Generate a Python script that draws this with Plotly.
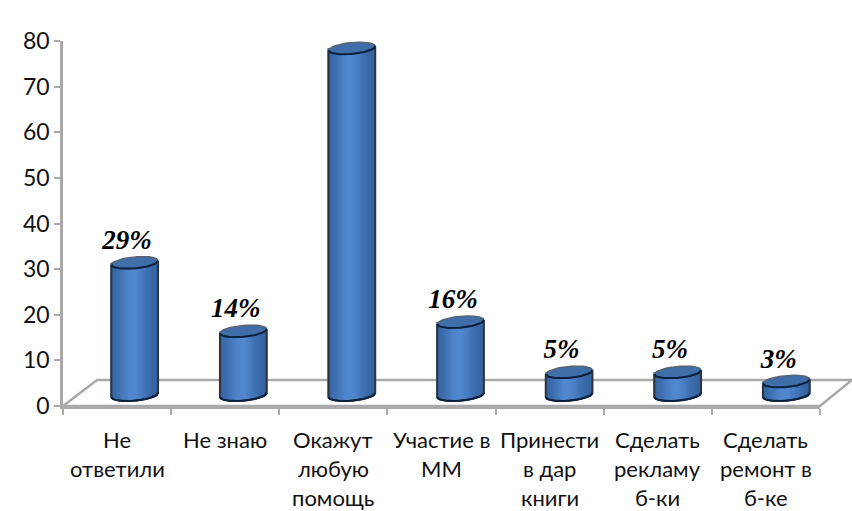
import numpy as np
import plotly.graph_objects as go

W, H = 852, 511
categories = ["Не ответили", "Не знаю", "Окажут любую помощь", "Участие в ММ",
              "Принести в дар книги", "Сделать рекламу б-ки", "Сделать ремонт в б-ке"]
category_lines = [["Не", "ответили"], ["Не знаю"], ["Окажут", "любую", "помощь"], ["Участие в", "ММ"],
                  ["Принести", "в дар", "книги"], ["Сделать", "рекламу", "б-ки"], ["Сделать", "ремонт в", "б-ке"]]
values = [29, 14, 76, 16, 5, 5, 3]
labels = ["29%", "14%", "76%", "16%", "5%", "5%", "3%"]
y_ticks = [0, 10, 20, 30, 40, 50, 60, 70, 80]

GRAY = "#a9a9a9"
NAVY = "#0b1f3f"
FONT = "Lato"

def px(x): return x / W
def py(y): return 1 - y / H

idx = np.arange(len(values))
half_w = 0.215   # half cylinder width, in category units
cap_h = 1.25     # half cap height, in value units
tilt = 0.45      # cap rise across half the width
n_slices = 47
t = (np.arange(n_slices) + 0.5) / n_slices * 2 - 1

def shade(tt):
    k = np.exp(-((tt + 0.05) / 0.62) ** 2)
    dark, light = np.array([0x34, 0x62, 0x9E]), np.array([0x52, 0x88, 0xCF])
    c = dark + (light - dark) * k
    return "rgb(%d,%d,%d)" % tuple(c)

sx, sb, sy, sc = [], [], [], []
for i, v in zip(idx, values):
    for tt in t:
        base = -cap_h * np.sqrt(1 - tt ** 2) + tilt * tt
        sx.append(i + tt * half_w)
        sb.append(base)
        sy.append(v - base)
        sc.append(shade(tt))

fig = go.Figure()
# front category axis carrier
fig.add_trace(go.Scatter(x=categories, y=values, mode="none", xaxis="x", yaxis="y",
                         hoverinfo="skip", showlegend=False))
fig.add_trace(go.Bar(x=sx, y=sy, base=sb, width=2 * half_w / n_slices * 1.5,
                     marker=dict(color=sc, line=dict(width=0)), xaxis="x2", yaxis="y2",
                     cliponaxis=False, showlegend=False))

theta = np.linspace(0, 2 * np.pi, 61)
front = np.linspace(-1, 1, 31)
for i, v in zip(idx, values):
    low = -cap_h * np.sqrt(1 - front ** 2) + tilt * front
    sil_x = np.concatenate([[-1], front, [1]]) * half_w + i
    sil_y = np.concatenate([[v - tilt], low, [v + tilt]])
    fig.add_trace(go.Scatter(x=sil_x, y=sil_y, mode="lines", line=dict(color="#2c3440", width=2),
                             xaxis="x2", yaxis="y2", cliponaxis=False, showlegend=False))
    fig.add_trace(go.Scatter(x=front * half_w + i, y=low, mode="lines", line=dict(color=NAVY, width=2),
                             xaxis="x2", yaxis="y2", cliponaxis=False, showlegend=False))
    cx = np.cos(theta)
    cy = v + tilt * cx + cap_h * np.sin(theta)
    fig.add_trace(go.Scatter(x=cx * half_w + i, y=cy, mode="lines", fill="toself", fillcolor="#3f6ea8",
                             line=dict(color="#5a6470", width=1.5), xaxis="x2", yaxis="y2",
                             cliponaxis=False, showlegend=False))
    fy = v + tilt * front - cap_h * np.sqrt(1 - front ** 2)
    fig.add_trace(go.Scatter(x=front * half_w + i, y=fy, mode="lines", line=dict(color=NAVY, width=2),
                             xaxis="x2", yaxis="y2", cliponaxis=False, showlegend=False))

fig.add_trace(go.Scatter(x=idx - 0.07, y=[v + 4.5 for v in values], mode="text", text=labels,
                         textposition="middle center",
                         textfont=dict(family="Liberation Serif", size=27, color="black", style="italic", weight="bold"),
                         xaxis="x2", yaxis="y2", cliponaxis=False, showlegend=False))

annotations = []
for i, lines in enumerate(category_lines):
    for j, line in enumerate(lines):
        annotations.append(dict(x=categories[i], xref="x", y=py(439 + 30 * j - j), yref="paper", text=line,
                                showarrow=False, xanchor="center", yanchor="middle",
                                font=dict(family=FONT, size=22, color="#111111")))

floor = "M%f,%f L%f,%f L%f,%f L%f,%f Z" % (px(63), py(406), px(97), py(380), px(852), py(380), px(820), py(406))
unit = (395 - 30) / 80
y2_low = -6
fig.update_layout(
    width=W, height=H, autosize=False, margin=dict(l=0, r=0, t=0, b=0, autoexpand=False),
    paper_bgcolor="white", plot_bgcolor="rgba(0,0,0,0)", barmode="overlay", showlegend=False,
    annotations=annotations,
    shapes=[dict(type="path", path=floor, xref="paper", yref="paper", layer="below",
                 line=dict(color=GRAY, width=2.5), fillcolor="rgba(0,0,0,0)")],
    xaxis=dict(domain=[px(63), px(820)], type="category", categoryorder="array", categoryarray=categories,
               range=[-0.5, 6.5], showticklabels=False, ticks="outside", ticklen=6, tickwidth=2, tickcolor=GRAY,
               tickson="boundaries", showline=True, linecolor=GRAY, linewidth=2.5, showgrid=False, zeroline=False,
               anchor="y", fixedrange=True),
    yaxis=dict(domain=[py(406), py(41)], range=[0, 80], tickvals=y_ticks, ticks="outside", ticklen=6, tickwidth=2,
               tickcolor=GRAY, showline=True, linecolor=GRAY, linewidth=2.5, showgrid=False, zeroline=False,
               tickfont=dict(family=FONT, size=23, color="#111111"), anchor="x", fixedrange=True),
    xaxis2=dict(domain=[px(80.4), px(840.6)], range=[-0.5, 6.5], visible=False, anchor="y2", fixedrange=True),
    yaxis2=dict(domain=[py(395 - y2_low * unit), py(30)], range=[y2_low, 80], visible=False, anchor="x2", fixedrange=True),
)
fig.write_html("out.html", config=dict(displayModeBar=False),
               post_script="document.documentElement.style.margin='0';document.body.style.margin='0';document.body.style.overflow='hidden';")
